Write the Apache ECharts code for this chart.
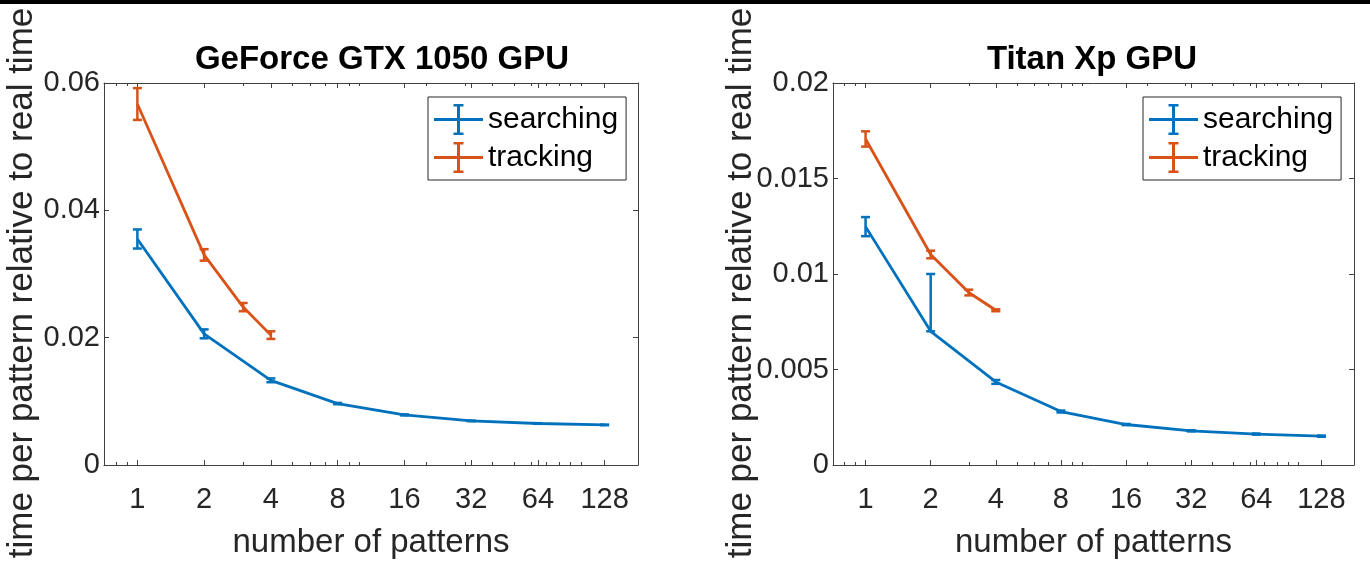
<!DOCTYPE html>
<html>
<head>
<meta charset="utf-8">
<script src="https://cdn.jsdelivr.net/npm/echarts@6/dist/echarts.min.js"></script>
<style>
html,body{margin:0;padding:0;background:#fff;}
#chart{width:1370px;height:564px;}
</style>
</head>
<body>
<div id="chart"></div>
<script>
// ---- data ----
const titles = ['GeForce GTX 1050 GPU', 'Titan Xp GPU'];
const seriesNames = ['searching', 'tracking'];
const xTickLabels = [1, 2, 4, 8, 16, 32, 64, 128];
const xMinorTicks = [0.8, 0.9, 3, 5, 6, 7, 9, 10, 20, 30, 40, 50, 60, 70, 80, 90, 100];
const xSearch = [1, 2, 4, 8, 16, 32, 64, 128];
const xTrack = [1, 2, 3, 4];

const gtxSearchMean = [0.0355, 0.0206, 0.0133, 0.00965, 0.00787, 0.00693, 0.00652, 0.0063];
const gtxSearchErrLo = [0.0015, 0.0007, 0.0003, 0.0001, 0.00008, 0.00005, 0.00005, 0.00005];
const gtxSearchErrHi = [0.0015, 0.0007, 0.0003, 0.0001, 0.00008, 0.00005, 0.00005, 0.00005];
const gtxTrackMean = [0.0567, 0.0330, 0.0248, 0.0204];
const gtxTrackErrLo = [0.0025, 0.0009, 0.00065, 0.0006];
const gtxTrackErrHi = [0.0025, 0.0009, 0.00065, 0.0006];

const titanSearchMean = [0.01248, 0.0070, 0.00435, 0.0028, 0.00212, 0.00179, 0.00162, 0.00151];
const titanSearchErrLo = [0.0005, 0.0, 0.0001, 0.00005, 0.00003, 0.00003, 0.00003, 0.00003];
const titanSearchErrHi = [0.0005, 0.0030, 0.0001, 0.00005, 0.00003, 0.00003, 0.00003, 0.00003];
const titanTrackMean = [0.01707, 0.01102, 0.00903, 0.0081];
const titanTrackErrLo = [0.0004, 0.0002, 0.00015, 0.00005];
const titanTrackErrHi = [0.0004, 0.0002, 0.00015, 0.00005];

const yMax = [0.06, 0.02];
const yInterval = [0.02, 0.005];
const yLabelText = 'time per pattern relative to real time';
const xLabelText = 'number of patterns';

// ---- styling ----
const BLUE = '#0072BD', ORANGE = '#D95319';
const FONT = "'Liberation Sans', Arial, Helvetica, sans-serif";
const AX = '#404040', TXT = '#262626';
const grids = [
  {left: 104, top: 83, width: 534, height: 384},
  {left: 833, top: 83, width: 521, height: 384}
];
const XMIN = Math.pow(2, -0.5), XMAX = Math.pow(2, 7.5);

const chart = echarts.init(document.getElementById('chart'), null, {renderer: 'canvas'});

function pts(xs, m) { return xs.map((x, i) => [x, m[i]]); }
function errs(xs, m, lo, hi) { return xs.map((x, i) => [x, m[i] - lo[i], m[i] + hi[i]]); }

function errRender(params, api) {
  const x = api.value(0), lo = api.value(1), hi = api.value(2);
  const t = api.coord([x, hi]);
  const b = api.coord([x, lo]);
  const hw = 4.5;
  const style = {stroke: api.visual('color'), lineWidth: 2.5, fill: null};
  return {type: 'group', children: [
    {type: 'line', shape: {x1: t[0], y1: t[1], x2: b[0], y2: b[1]}, style: style},
    {type: 'line', shape: {x1: t[0] - hw, y1: t[1], x2: t[0] + hw, y2: t[1]}, style: style},
    {type: 'line', shape: {x1: b[0] - hw, y1: b[1], x2: b[0] + hw, y2: b[1]}, style: style}
  ]};
}

const xAxes = [], yAxes = [];
grids.forEach((g, gi) => {
  const base = {type: 'log', logBase: 2, min: XMIN, max: XMAX, gridIndex: gi, splitLine: {show: false}};
  xAxes.push(Object.assign({}, base, {
    position: 'bottom',
    axisLine: {show: true, onZero: false, lineStyle: {color: AX, width: 1}},
    axisTick: {show: true, inside: true, length: 5, lineStyle: {color: AX}, customValues: xTickLabels},
    axisLabel: {show: true, customValues: xTickLabels, margin: 20, fontSize: 29, fontFamily: FONT, color: TXT,
      formatter: v => String(Math.round(v))},
    name: xLabelText, nameLocation: 'middle', nameGap: 61,
    nameTextStyle: {fontSize: 33, fontFamily: FONT, color: TXT}
  }));
  xAxes.push(Object.assign({}, base, {
    position: 'bottom',
    axisLine: {show: false, onZero: false},
    axisTick: {show: true, inside: true, length: 3, lineStyle: {color: AX}, customValues: xMinorTicks},
    axisLabel: {show: false}
  }));
  xAxes.push(Object.assign({}, base, {
    position: 'top',
    axisLine: {show: true, onZero: false, lineStyle: {color: AX, width: 1}},
    axisTick: {show: true, inside: true, length: 5, lineStyle: {color: AX}, customValues: xTickLabels},
    axisLabel: {show: false}
  }));
  xAxes.push(Object.assign({}, base, {
    position: 'top',
    axisLine: {show: false, onZero: false},
    axisTick: {show: true, inside: true, length: 3, lineStyle: {color: AX}, customValues: xMinorTicks},
    axisLabel: {show: false}
  }));
  yAxes.push({
    type: 'value', gridIndex: gi, position: 'left', min: 0, max: yMax[gi], interval: yInterval[gi],
    splitLine: {show: false},
    axisLine: {show: true, onZero: false, lineStyle: {color: AX, width: 1}},
    axisTick: {show: true, inside: true, length: 5, lineStyle: {color: AX}},
    axisLabel: {show: true, margin: 4, fontSize: 29, fontFamily: FONT, color: TXT}
  });
  yAxes.push({
    type: 'value', gridIndex: gi, position: 'right', min: 0, max: yMax[gi], interval: yInterval[gi],
    splitLine: {show: false},
    axisLine: {show: true, onZero: false, lineStyle: {color: AX, width: 1}},
    axisTick: {show: true, inside: true, length: 5, lineStyle: {color: AX}},
    axisLabel: {show: false}
  });
});

const panels = [
  {search: [gtxSearchMean, gtxSearchErrLo, gtxSearchErrHi], track: [gtxTrackMean, gtxTrackErrLo, gtxTrackErrHi]},
  {search: [titanSearchMean, titanSearchErrLo, titanSearchErrHi], track: [titanTrackMean, titanTrackErrLo, titanTrackErrHi]}
];

const series = [];
panels.forEach((p, gi) => {
  const xi = gi * 4, yi = gi * 2;
  [['search', xSearch, BLUE, seriesNames[0]], ['track', xTrack, ORANGE, seriesNames[1]]].forEach(([k, xs, col, nm]) => {
    const [m, lo, hi] = p[k];
    series.push({
      type: 'line', name: nm, xAxisIndex: xi, yAxisIndex: yi,
      data: pts(xs, m), showSymbol: false, symbol: 'none', silent: true,
      color: col, lineStyle: {color: col, width: 2.8}, itemStyle: {color: col}, z: 3
    });
    series.push({
      type: 'custom', name: nm + '-err', xAxisIndex: xi, yAxisIndex: yi,
      data: errs(xs, m, lo, hi), renderItem: errRender, silent: true,
      encode: {x: 0, y: [1, 2]},
      color: col, itemStyle: {color: col}, z: 4
    });
  });
});

const ICON = 'path://M0,14h49v3h-49z M23,0h3v31h-3z M19.5,0h10v2.5h-10z M19.5,28.5h10v2.5h-10z';
const legendBase = {
  orient: 'vertical', selectedMode: false,
  data: seriesNames.map(n => ({name: n, icon: ICON})),
  itemWidth: 49, itemHeight: 31, itemGap: 7, itemTextGap: 6,
  padding: [7, 8, 7, 6],
  borderColor: '#262626', borderWidth: 1, backgroundColor: '#fff',
  textStyle: {fontSize: 30, fontFamily: FONT, color: '#000', padding: [3, 0, 0, 0]}
};

const option = {
  animation: false,
  backgroundColor: '#fff',
  grid: grids.map(g => Object.assign({containLabel: false}, g)),
  xAxis: xAxes,
  yAxis: yAxes,
  legend: [
    Object.assign({}, legendBase, {left: 428, top: 97}),
    Object.assign({}, legendBase, {left: 1143, top: 97})
  ],
  series: series,
  graphic: [
    {type: 'rect', left: 0, top: 0, shape: {x: 0, y: 0, width: 1370, height: 4}, style: {fill: '#000'}, silent: true},
    {type: 'text', x: 382, y: 60, style: {text: titles[0], font: 'bold 33px ' + FONT, fill: '#000',
      textAlign: 'center', textVerticalAlign: 'middle', align: 'center', verticalAlign: 'middle'}},
    {type: 'text', x: 1092, y: 60, style: {text: titles[1], font: 'bold 33px ' + FONT, fill: '#000',
      textAlign: 'center', textVerticalAlign: 'middle', align: 'center', verticalAlign: 'middle'}},
    {type: 'text', x: 22, y: 283, rotation: Math.PI / 2, style: {text: yLabelText, font: '35px ' + FONT, fill: TXT,
      textAlign: 'center', textVerticalAlign: 'middle', align: 'center', verticalAlign: 'middle'}},
    {type: 'text', x: 741, y: 283, rotation: Math.PI / 2, style: {text: yLabelText, font: '35px ' + FONT, fill: TXT,
      textAlign: 'center', textVerticalAlign: 'middle', align: 'center', verticalAlign: 'middle'}}
  ]
};
chart.setOption(option);
</script>
</body>
</html>
